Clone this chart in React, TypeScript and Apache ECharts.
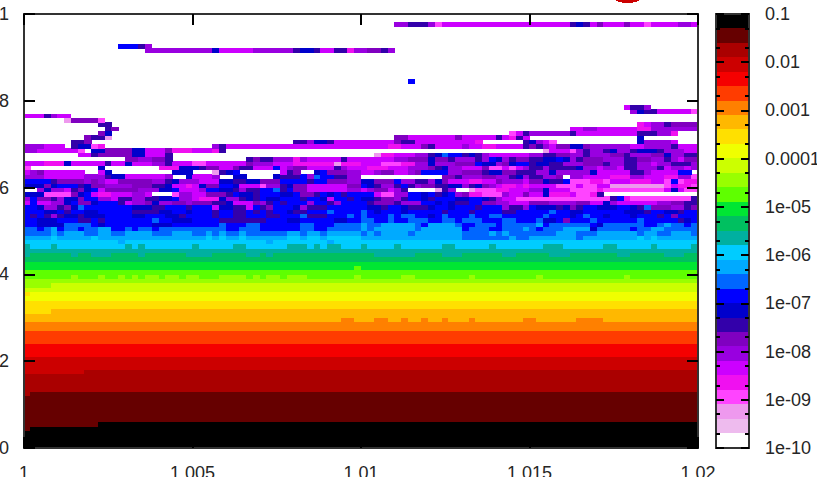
import React, { useEffect, useRef } from "react";
import * as echarts from "echarts";

// Colour bands, from the top of the colour bar (0.1) to the bottom (1e-10).
const bandCodes = "abcdefghijklmnopqrstuvwxyzAB" + "C.";
const bandColors = [
  "#000000", "#660000", "#AA0000", "#CC0000", "#F50000", "#FF3C00", "#FF8000", "#FFB800",
  "#FFE000", "#F0FF00", "#CCFF00", "#99FF00", "#5FFF00", "#00E633", "#00C060", "#00B0A0",
  "#00CCFF", "#00AAFF", "#0066FF", "#0000FF", "#0000CC", "#3300AA", "#8000C0", "#9900E0",
  "#CC00FF", "#F010F0", "#FF44FF", "#EE99EE", "#EEBBEE", "#FFFFFF",
];

// Rows 0..47 from the bottom of the map: run-length code + count.
const lowerRows = [
  "a100", "a100", "a100", "a100", "b1a99", "b11a89",
  "b100", "b100", "b100", "b100", "b100", "b100",
  "c1b99", "c100", "c100", "c100", "c100", "d9c91",
  "d100", "d100", "d100", "e100", "e100", "e100",
  "f100", "f100", "f100", "g100", "g100",
  "h47g2h3g2h2g1h2g1h2g1h3g1h7g2h6g4h14",
  "h100", "i4h96", "i100", "i100", "j100", "i1j99",
  "k100", "l4k96", "l100",
  "m7l1m3l1m2l1m1l1m1l2m1l2m1l2m3l4m1l1m1l2m1l3m7l1m6l2m8l1m9l1m12l1m8",
  "m100", "n49m1n50", "n100", "o100",
  "p1o6p1o2p3o4p1o6p4o5p2o1p1o15p6o4p3o6p2o5p3o7p2o5p3o4",
  "p100",
  "p1q3p1q10p1q1p1q7p1q5p2q6p3q1p1q1p2q3p1q4p1q6p2q5p1q7p3q6p2q5p1q5p2q4",
  "q14r1q21r1q8r1q54",
];

// Rows 48..70 from the bottom: four blocks of 25 cells each.
const noisyRows = [
  "r4q1r5q1r14|r2q1r1q1r2q1r6q2r1q2r1q5|r15s7r1s2|r7s1r8q1r1q1r6",
  "s4r1s1r3s2r2s2r4s3r3|s2r1s1r1s2r1s6r2s1r2s1r5|s1r1s1r4s1r7s4r1s1r1s3|s4r3s3r6s1r2s2r3s1",
  "s2t1s1r1t1s2t1s2r2t2s1t1s2t1s5|s5t2s3t6s2t2s5|r1s1r6s1r6t1s3t2s3r1|s1t1s3r4u1s5t1s2r2s5",
  "t2u4s4t1u1t7u3t3|t4s1t3s2t6s2t3s4|r1s2r5s1t1r4s1t2s3t1s4|s1r1t1s6t1u1s6t2s1r1s2t1s1",
  "t2u3t3v2t1v1t7s1t2u3|t4v7t3u2t5u2t2|s2t2s1t2s3t2s2t1s3t3s2t2|t1s1u2t1w1t3s1t6s1t5v1u1t1",
  "t1v1t1v1x1v1u2v1u3t4u2t3u2v1t1|t3v1t2v2t3v2t3s1v3t3s1t1|s1t3s1t1s2t2u1t1s1t3s1t2s2t4|t2s1t3u1t1s1t2u1t3u1t3v1t1w1t3",
  "t3u2t1v1t2u2t5v4u2t2u1|t3v1t2v2t1v1t1v1t2u1v2t3s1t4|s1t1u1t3u1t5v1t3v1t4v2t2|t3s1t2u2t3t3u3v1t2u2v1t2",
  "t2u1x2v1w1u1s1t4t3u3v2t3v1|t3y1u2v2y1t1v1w1t3u1x1v3t4t1|t1u2v1t2u1v3u1t2u1t3v1t3x1v2x1|t1u3v1u1w1v1t2u3t2u1v1s1w3x2v1w1",
  "y1t1y2x2u1t1w2u1t3v1y1x2w1u1x2w2x1|w3v2u1y3w1x1v1t1v1t3x1t2v1x1t3|t1v1w3v1x3t2u1t1u1v2t2w2x2y3|w3x4w2y2u1x1y6x2w2v1v1",
  "x1t1w2v1x1u2w1t2x2y1v2x2v2u2t1x3|y1z3u1x2v1u1v1t1u2t3v1t2u1y1t2v1t1|u2v1w2x1v1t2u1v1t3u2t2u1v1x1y2A2|A12v1t1z1A9v1",
  "u3A4w1u1t1y1z2y3x2y1.3A1x2|y2w3v1t1u2v1t3u2t1w2v1t1u1t1v1t2|t2y1A2x2t2u1t1v1u1t1x1w1z2A3x1y2w1|y2u1z3y1A2z1v1.14",
  ".2x1u1x2y1v1w1u1t1y1w5x3u2t1y2|y1x1t2u2v1x1v2t2s1v1t1w2y6x2|y1x1w2y1x1v1.4B1v1x1.2B1A3z2y3|x2u1y3A4z1A9y1u1y1A2",
  "u3w1u1t3v1u1w2x4w3v2u1y2z1|y1u1w2t2u1y3A1x2v1u1w2y6w2|t1u1v1x2v1t1v1x1w2v2u2x1v1u1w1x1y1z2y1z1|y4A3y1A2y2B8A1y1z2A1",
  "t4v1w4x1w1x1y2w5x2v1u1x2|x1y3u2v2u2w3t4v1t2w3x2|u2w3t1x2v2x1u1w1y3z2y2w1x3y1|w2u1v2t1A3z2A1y3z3y2A1t1A1z2",
  "x3y6x3v1u2y6x1.2u2|y3x1.2u2.4u1v3t1x1s1t2v2x2|.12w2v1x3w2x2v1u1x1|v2x2w1.1x2y3y1z3x2y3z2x2A1",
  "y1x1w1y6.2y1u1.9u3|.3B1v1u1t1.6y1v1w1.2u1t1w3x2|y2x1w2y2x1w1t4x2w3v1u2w2v2|v1x2u1x5u1y5v2x1y4t2.1",
  "A1.10u1.8z3u2|u1v1w2y2w1v2y3t1y1x1w2y4v1x1y2|y1z3y3x3w1v1u1x2y3w1A2y1A1y1x1|v2x1v4u1x2y1x2y1v2x3v1y1x2y1x1",
  "y3z3u1y5v1y2u1y3x2v1y3|A2y6w1x3y3z6B1z3|y3A3z2x2u1x3w3t1u2x1w1u1t2|v1u2v2x3w3v1x2v2x2y1x2v2v1x1",
  ".15w2x2w2v1.3|.8v1w1v2x3z1x1y5v1y2|y5x2w3u1w2v1x3v1x1t1u1x1v1w2|v2u2t1u1x1v1w3x3v2w2x2v1x1y1w2",
  ".8y2v1w5u2y3v1.3|.25|.2B1z2y3x2v1u1s1t2v1u1v1x1y6|x2v2w2x2v1x3w2v1x3w2u1x2v2",
  "x2y6A1.1u2w4u2y3w1z3|y3z1v1.20|.25|.2B1y3A1x1v1x2v1u1x2v1u3v1x3y2",
  "x3y3.1v1u2A1z1.13|.3x1v1y20|y4z2y3w1v1y4x1y2z2y4v1|w1v1x1y1w2u2w1x6y2x4v1y3",
  ".7v2w1.15|.15v2x1u2v1y4|y5w1v2y9z1.6v1|u1x1y1A1.12u1x4y1.3",
];

// Rows 71..99 from the bottom: whole rows, run-length coded.
const upperRows = [
  ".9w1v2B1.42w2y7w1y5v1y1z1v1y1.16u1.8",
  ".11w1u1.59A1y1v1x6v1y9v3x2z1.3",
  ".12v1w1.67y2x2y6z2x7",
  ".11v2.78z1y1x2v1w5",
  ".6B1w4A1.88",
  "y3v1x1y2.93",
  ".90x1u1v2y5A1",
  ".89y1v2x1.7",
  ".100", ".100", ".100", ".100", ".100",
  ".57t1.42",
  ".100", ".100", ".100", ".100", ".100", ".100",
  ".18x10u1y5x6v1u2v1y2v2z1x2w2v1x1.45",
  ".14t3v1x1.81",
  ".100", ".100", ".100", ".100",
  ".55x2v3x1A1y19v1u1v1y1w1y3w1y2A1y4x2y1",
  ".100", ".100",
];

const xTicks = [1, 1.005, 1.01, 1.015, 1.02];
const yTickLabels = ["0", "2", "4", "6", "8", "1"];
const colorbarLabels = ["1e-10", "1e-09", "1e-08", "1e-07", "1e-06", "1e-05", "0.0001", "0.001", "0.01", "0.1"];
const colorbarMinorTicks = [
  -9.7, -9.3, -8.7, -8.3, -7.7, -7.3, -6.7, -6.3, -5.7, -5.3,
  -4.7, -4.3, -3.7, -3.3, -2.7, -2.3, -1.7, -1.3,
];

const LEFT = 24;
const TOP = 14;
const WIDTH = 674;
const HEIGHT = 434;
const BAR_LEFT = 716;
const BAR_WIDTH = 33;
const FRAME = "#333333";
const TEXT = "#262626";
const FONT = "Liberation Sans";

function decode(row: string, length: number): number[] {
  const cells: number[] = [];
  const re = /([a-zA-Z.])(\d+)/g;
  let m: RegExpExecArray | null;
  while ((m = re.exec(row))) {
    const band = bandCodes.indexOf(m[1]);
    for (let i = 0; i < Number(m[2]); i++) cells.push(band);
  }
  while (cells.length < length) cells.push(cells[cells.length - 1]);
  return cells.slice(0, length);
}

function buildRows(): number[][] {
  const rows: number[][] = [];
  lowerRows.forEach((r) => rows.push(decode(r, 100)));
  noisyRows.forEach((r) => rows.push(r.split("|").flatMap((seg) => decode(seg, 25))));
  upperRows.forEach((r) => rows.push(decode(r, 100)));
  return rows;
}

export default function App() {
  const ref = useRef<HTMLDivElement>(null);

  useEffect(() => {
    const chart = echarts.init(ref.current!, undefined, { renderer: "svg" });

    const mapData: number[][] = [];
    buildRows().forEach((row, y) => {
      row.forEach((band, x) => {
        if (band !== bandCodes.indexOf(".")) mapData.push([x, y, band]);
      });
    });
    const barData = bandColors.map((_, i) => [0, bandColors.length - 1 - i, i]);

    const labelStyle = { color: TEXT, fontSize: 18, fontFamily: FONT };
    const frameLine = { show: true, onZero: false, lineStyle: { color: FRAME, width: 2 } };
    const hidden = { show: false };

    const mapTicks = { show: true, inside: true, length: 11, lineStyle: { color: "#000000", width: 2 } };
    const barMajor = { show: true, inside: true, length: 8, lineStyle: { color: "#000000", width: 2 } };
    const barMinor = {
      show: true, inside: true, length: 4, customValues: colorbarMinorTicks,
      lineStyle: { color: "#000000", width: 2 },
    };
    const barAxis = {
      type: "value", gridIndex: 1, min: -10, max: -1, interval: 1, z: 10,
      splitLine: hidden, axisLabel: hidden,
    };
    const barEdge = {
      type: "value", gridIndex: 1, min: 0, max: 1, z: 10,
      splitLine: hidden, axisLabel: hidden, axisTick: hidden, axisLine: frameLine,
    };
    const mapX = {
      type: "value", gridIndex: 0, min: xTicks[0], max: xTicks[xTicks.length - 1], interval: 0.005, z: 10,
      splitLine: hidden, axisLine: frameLine, axisTick: mapTicks,
    };
    const mapY = {
      type: "value", gridIndex: 0, min: 0, max: 1, interval: 0.2, z: 10,
      splitLine: hidden, axisLine: frameLine, axisTick: mapTicks,
    };

    chart.setOption({
      animation: false,
      backgroundColor: "#FFFFFF",
      grid: [
        { left: LEFT, top: TOP, width: WIDTH, height: HEIGHT, outerBoundsMode: "none" },
        { left: BAR_LEFT, top: TOP, width: BAR_WIDTH, height: HEIGHT, outerBoundsMode: "none" },
      ],
      xAxis: [
        { type: "category", gridIndex: 0, data: Array.from({ length: 100 }, (_, i) => i), show: false },
        {
          ...mapX, position: "bottom",
          axisLabel: {
            ...labelStyle, margin: 16, showMinLabel: true, showMaxLabel: true,
            formatter: (v: number) => String(Math.round(v * 1000) / 1000),
          },
        },
        { ...mapX, position: "top", axisLabel: hidden },
        { type: "category", gridIndex: 1, data: [0], show: false },
        { ...barEdge, position: "bottom" },
        { ...barEdge, position: "top" },
      ],
      yAxis: [
        { type: "category", gridIndex: 0, data: Array.from({ length: 100 }, (_, i) => i), show: false },
        {
          ...mapY, position: "left",
          axisLabel: {
            ...labelStyle, margin: 15,
            formatter: (v: number) => yTickLabels[Math.round(v * 5)],
          },
        },
        { ...mapY, position: "right", axisLabel: hidden },
        { type: "category", gridIndex: 1, data: bandColors.map((_, i) => i), show: false },
        { ...barAxis, position: "left", axisLine: frameLine, axisTick: barMajor },
        {
          ...barAxis, position: "right", axisLine: frameLine, axisTick: barMajor,
          axisLabel: {
            ...labelStyle, show: true, margin: 16,
            formatter: (v: number) => colorbarLabels[Math.round(v) + 10],
          },
        },
        { ...barAxis, position: "left", axisLine: hidden, axisTick: barMinor },
        { ...barAxis, position: "right", axisLine: hidden, axisTick: barMinor },
      ],
      visualMap: {
        type: "piecewise",
        show: false,
        dimension: 2,
        pieces: bandColors.map((color, i) => ({ value: i, color })),
      },
      series: [
        {
          type: "heatmap", xAxisIndex: 0, yAxisIndex: 0, data: mapData, progressive: 0,
          itemStyle: { borderWidth: 0 }, emphasis: { disabled: true },
        },
        {
          type: "heatmap", xAxisIndex: 3, yAxisIndex: 3, data: barData, progressive: 0,
          itemStyle: { borderWidth: 0 }, emphasis: { disabled: true },
        },
      ],
      graphic: [
        {
          type: "ellipse",
          shape: { cx: 627.5, cy: -3, rx: 14, ry: 6 },
          style: { fill: "#CC0000" },
        },
      ],
    });

    // The map's cells share edges: keep them free of anti-aliased seams.
    const svg = ref.current!.querySelector("svg");
    if (svg) svg.style.shapeRendering = "crispEdges";

    return () => chart.dispose();
  }, []);

  return (
    <div
      ref={ref}
      style={{ position: "absolute", left: 0, top: 0, width: 817, height: 477, overflow: "hidden" }}
    />
  );
}
